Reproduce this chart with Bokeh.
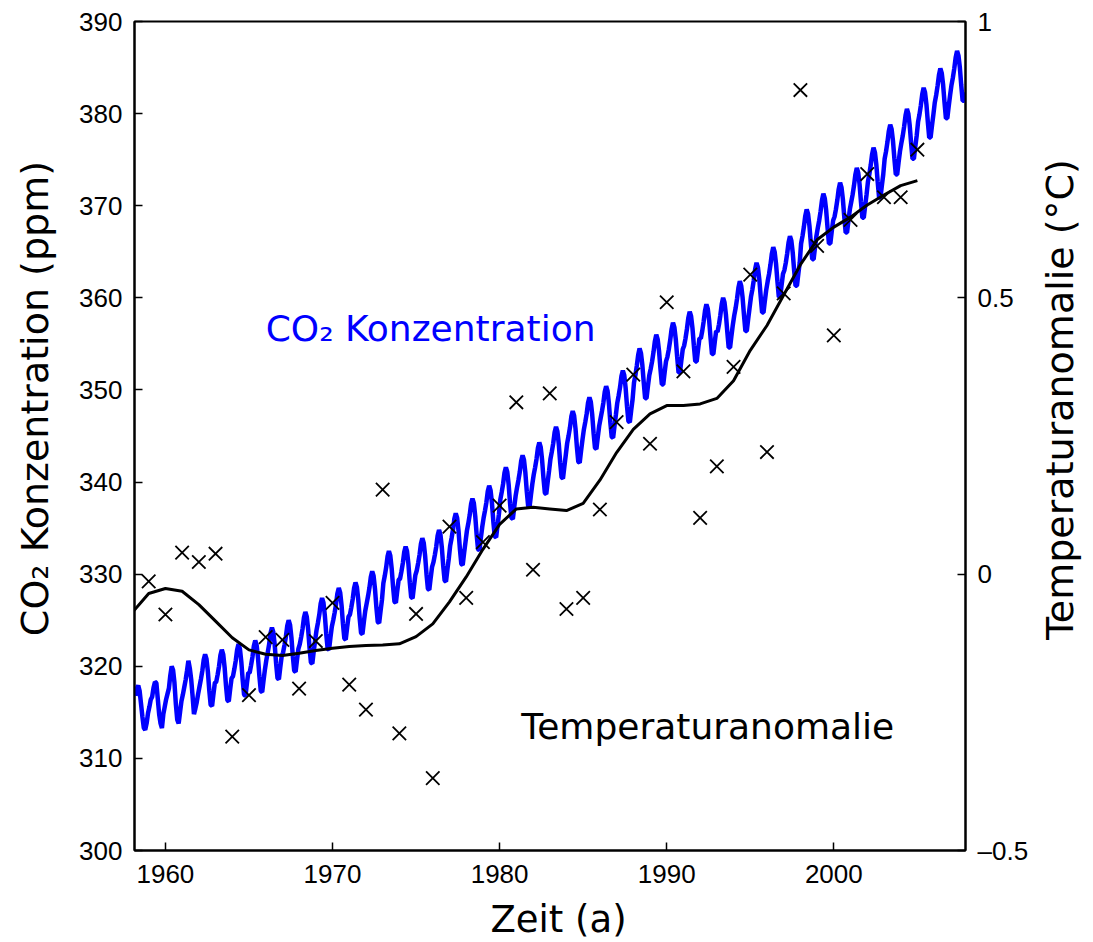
import math

from bokeh.embed import file_html
from bokeh.layouts import column, row
from bokeh.models import FixedTicker, Label, LinearAxis, Range1d
from bokeh.plotting import figure
from bokeh.resources import INLINE

# Monthly CO2 at Mauna Loa (ppm), first value = March 1958, one row per year
co2_first_year = 1958
co2_first_month = 3
co2_ppm = [
    316.8, 317.6, 317.9, 317.3, 315.9, 314.5, 313.3, 313.1, 313.8, 314.9,          # 1958
    315.6, 316.4, 316.7, 317.7, 318.3, 318.2, 316.5, 314.8, 313.8, 313.3, 314.8, 315.6,  # 1959
    316.4, 317.0, 317.6, 319.0, 320.0, 319.6, 318.2, 315.9, 314.2, 313.8, 315.0, 316.2,  # 1960
    316.9, 317.7, 318.5, 319.5, 320.6, 319.8, 318.6, 316.8, 314.8, 315.4, 316.1, 317.0,  # 1961
    317.8, 318.6, 319.5, 320.7, 321.3, 320.8, 319.4, 317.4, 315.8, 315.7, 317.0, 318.2,  # 1962
    318.3, 319.1, 320.0, 321.2, 321.8, 321.3, 319.9, 317.9, 316.3, 316.2, 317.5, 318.7,  # 1963
    318.9, 319.7, 320.6, 321.8, 322.4, 321.9, 320.5, 318.5, 316.9, 316.8, 318.1, 319.3,  # 1964
    319.3, 320.1, 321.0, 322.2, 322.8, 322.3, 320.9, 318.9, 317.3, 317.2, 318.5, 319.7,  # 1965
    320.7, 321.5, 322.4, 323.6, 324.2, 323.7, 322.3, 320.3, 318.7, 318.6, 319.9, 321.1,  # 1966
    321.5, 322.3, 323.2, 324.4, 325.0, 324.5, 323.1, 321.1, 319.5, 319.4, 320.7, 321.9,  # 1967
    322.4, 323.2, 324.1, 325.3, 325.9, 325.4, 324.0, 322.0, 320.4, 320.3, 321.6, 322.8,  # 1968
    323.9, 324.7, 325.6, 326.8, 327.4, 326.9, 325.5, 323.5, 321.9, 321.8, 323.1, 324.3,  # 1969
    325.0, 325.8, 326.7, 327.9, 328.5, 328.0, 326.6, 324.6, 323.0, 322.9, 324.2, 325.4,  # 1970
    325.6, 326.4, 327.3, 328.5, 329.1, 328.6, 327.2, 325.2, 323.6, 323.5, 324.8, 326.0,  # 1971
    326.8, 327.6, 328.5, 329.7, 330.3, 329.8, 328.4, 326.4, 324.8, 324.7, 326.0, 327.2,  # 1972
    329.0, 329.8, 330.7, 331.9, 332.5, 332.0, 330.6, 328.6, 327.0, 326.9, 328.2, 329.4,  # 1973
    329.5, 330.3, 331.2, 332.4, 333.0, 332.5, 331.1, 329.1, 327.5, 327.4, 328.7, 329.9,  # 1974
    330.4, 331.2, 332.1, 333.3, 333.9, 333.4, 332.0, 330.0, 328.4, 328.3, 329.6, 330.8,  # 1975
    331.3, 332.1, 333.0, 334.2, 334.8, 334.3, 332.9, 330.9, 329.3, 329.2, 330.5, 331.7,  # 1976
    333.1, 333.9, 334.8, 336.0, 336.6, 336.1, 334.7, 332.7, 331.1, 331.0, 332.3, 333.5,  # 1977
    334.7, 335.5, 336.4, 337.6, 338.2, 337.7, 336.3, 334.3, 332.7, 332.6, 333.9, 335.1,  # 1978
    336.1, 336.9, 337.8, 339.0, 339.6, 339.1, 337.7, 335.7, 334.1, 334.0, 335.3, 336.5,  # 1979
    338.1, 338.9, 339.8, 341.0, 341.6, 341.1, 339.7, 337.7, 336.1, 336.0, 337.3, 338.5,  # 1980
    339.4, 340.2, 341.1, 342.3, 342.9, 342.4, 341.0, 339.0, 337.4, 337.3, 338.6, 339.8,  # 1981
    340.8, 341.6, 342.5, 343.7, 344.3, 343.8, 342.4, 340.4, 338.8, 338.7, 340.0, 341.2,  # 1982
    342.5, 343.3, 344.2, 345.4, 346.0, 345.5, 344.1, 342.1, 340.5, 340.4, 341.7, 342.9,  # 1983
    344.2, 345.0, 345.9, 347.1, 347.7, 347.2, 345.8, 343.8, 342.2, 342.1, 343.4, 344.6,  # 1984
    345.7, 346.5, 347.4, 348.6, 349.2, 348.7, 347.3, 345.3, 343.7, 343.6, 344.9, 346.1,  # 1985
    346.9, 347.7, 348.6, 349.8, 350.4, 349.9, 348.5, 346.5, 344.9, 344.8, 346.1, 347.3,  # 1986
    348.6, 349.4, 350.3, 351.5, 352.1, 351.6, 350.2, 348.2, 346.6, 346.5, 347.8, 349.0,  # 1987
    350.8, 351.6, 352.6, 353.8, 354.5, 354.0, 352.7, 350.8, 349.1, 349.1, 350.4, 351.6,  # 1988
    352.3, 353.1, 354.1, 355.3, 356.0, 355.5, 354.2, 352.3, 350.6, 350.6, 351.9, 353.1,  # 1989
    353.6, 354.4, 355.4, 356.6, 357.3, 356.8, 355.5, 353.6, 351.9, 351.9, 353.2, 354.4,  # 1990
    354.8, 355.6, 356.6, 357.8, 358.5, 358.0, 356.7, 354.8, 353.1, 353.1, 354.4, 355.6,  # 1991
    355.6, 356.4, 357.4, 358.6, 359.3, 358.8, 357.5, 355.6, 353.9, 353.9, 355.2, 356.4,  # 1992
    356.3, 357.1, 358.1, 359.3, 360.0, 359.5, 358.2, 356.3, 354.6, 354.6, 355.9, 357.1,  # 1993
    358.1, 358.9, 359.9, 361.1, 361.8, 361.3, 360.0, 358.1, 356.4, 356.4, 357.7, 358.9,  # 1994
    360.1, 360.9, 361.9, 363.1, 363.8, 363.3, 362.0, 360.1, 358.4, 358.4, 359.7, 360.9,  # 1995
    361.8, 362.6, 363.6, 364.8, 365.5, 365.0, 363.7, 361.8, 360.1, 360.1, 361.4, 362.6,  # 1996
    363.0, 363.8, 364.8, 366.0, 366.7, 366.2, 364.9, 363.0, 361.3, 361.3, 362.6, 363.8,  # 1997
    365.9, 366.7, 367.7, 368.9, 369.6, 369.1, 367.8, 365.9, 364.2, 364.2, 365.5, 366.7,  # 1998
    367.6, 368.4, 369.4, 370.6, 371.3, 370.8, 369.5, 367.6, 365.9, 365.9, 367.2, 368.4,  # 1999
    368.8, 369.6, 370.6, 371.8, 372.5, 372.0, 370.7, 368.8, 367.1, 367.1, 368.4, 369.6,  # 2000
    370.4, 371.2, 372.2, 373.4, 374.1, 373.6, 372.3, 370.4, 368.7, 368.7, 370.0, 371.2,  # 2001
    372.6, 373.4, 374.4, 375.6, 376.3, 375.8, 374.5, 372.6, 370.9, 370.9, 372.2, 373.4,  # 2002
    375.1, 375.9, 376.9, 378.1, 378.8, 378.3, 377.0, 375.1, 373.4, 373.4, 374.7, 375.9,  # 2003
    376.8, 377.6, 378.6, 379.8, 380.5, 380.0, 378.7, 376.8, 375.1, 375.1, 376.4, 377.6,  # 2004
    379.1, 379.9, 380.9, 382.1, 382.8, 382.3, 381.0, 379.1, 377.4, 377.4, 378.7, 379.9,  # 2005
    381.2, 382.0, 383.0, 384.2, 384.9, 384.4, 383.1, 381.2, 379.5, 379.5, 380.8, 382.0,  # 2006
    383.1, 383.9, 384.9, 386.1, 386.8, 386.3, 385.0, 383.1, 381.4, 381.4, 382.3,         # 2007
]

# Annual global temperature anomaly (degC)
temp_years = list(range(1959, 2006))
temp_anomaly = [
    -0.013, -0.073, 0.039, 0.022, 0.037, -0.294, -0.219, -0.114, -0.119, -0.207,
    -0.121, -0.052, -0.200, -0.245, 0.153, -0.288, -0.072, -0.369, 0.086, -0.043,
    0.058, 0.124, 0.311, 0.008, 0.327, -0.063, -0.043, 0.117, 0.275, 0.361,
    0.236, 0.492, 0.367, 0.102, 0.195, 0.375, 0.542, 0.221, 0.508, 0.876,
    0.594, 0.432, 0.641, 0.724, 0.682, 0.682, 0.768,
]

# Smoothed temperature anomaly (degC)
smooth_years = list(range(1958, 2006))
smooth_anomaly = [
    -0.070, -0.035, -0.026, -0.031, -0.055, -0.085, -0.115, -0.137, -0.145, -0.147,
    -0.143, -0.138, -0.134, -0.131, -0.129, -0.128, -0.126, -0.113, -0.090, -0.050,
    -0.005, 0.045, 0.090, 0.118, 0.121, 0.118, 0.115, 0.128, 0.170, 0.220,
    0.262, 0.290, 0.305, 0.305, 0.308, 0.318, 0.350, 0.405, 0.450, 0.505,
    0.560, 0.605, 0.628, 0.646, 0.668, 0.686, 0.703, 0.712,
]

# Axis ticks
year_ticks = [1960, 1970, 1980, 1990, 2000]
ppm_ticks = [300, 310, 320, 330, 340, 350, 360, 370, 380, 390]
temp_ticks = [-0.5, 0, 0.5, 1]
temp_tick_labels = {-0.5: "\u20130.5", 0: "0", 0.5: "0.5", 1: "1"}

co2_dates = [co2_first_year + (co2_first_month - 1 + i + 0.5) / 12.0
             for i in range(len(co2_ppm))]

TICK_FONT = "Liberation Sans"
LABEL_FONT = "DejaVu Sans"

# page layout: left title strip | chart | right title strip, x-title strip below
LEFT_W, RIGHT_W, BOTTOM_H = 70, 60, 45
PAGE_W, PAGE_H = 1093, 942
MAIN_W = PAGE_W - LEFT_W - RIGHT_W
MAIN_H = PAGE_H - BOTTOM_H

p = figure(
    width=MAIN_W, height=MAIN_H,
    output_backend="svg", toolbar_location=None,
    x_range=Range1d(1958.15, 2007.88), y_range=Range1d(300, 390),
    min_border_left=134 - LEFT_W, min_border_right=128 - RIGHT_W,
    min_border_top=21, min_border_bottom=MAIN_H - 21 - 829,
    x_axis_location=None, y_axis_location=None,
)
p.extra_y_ranges = {"temp": Range1d(-0.5, 1.0)}
p.grid.visible = False
p.background_fill_color = "white"
p.border_fill_color = "white"
p.outline_line_color = "black"
p.outline_line_width = 2


def style_axis(ax, ticks, standoff):
    ax.ticker = FixedTicker(ticks=ticks)
    ax.major_tick_in = 8
    ax.major_tick_out = 0
    ax.minor_tick_in = 0
    ax.minor_tick_out = 0
    ax.major_tick_line_color = "black"
    ax.major_tick_line_width = 1.5
    ax.axis_line_color = "black"
    ax.axis_line_width = 2
    ax.major_label_text_font = TICK_FONT
    ax.major_label_text_font_size = "26px"
    ax.major_label_text_color = "black"
    ax.major_label_standoff = standoff


x_axis = LinearAxis()
style_axis(x_axis, year_ticks, 14)
p.add_layout(x_axis, "below")

y_axis = LinearAxis()
style_axis(y_axis, ppm_ticks, 12)
p.add_layout(y_axis, "left")

t_axis = LinearAxis(y_range_name="temp")
style_axis(t_axis, temp_ticks, 12)
t_axis.major_label_overrides = temp_tick_labels
p.add_layout(t_axis, "right")

# CO2 record with its seasonal cycle
p.line(co2_dates, co2_ppm, line_color="#0000ff", line_width=4.5)

# smoothed temperature anomaly
p.line(smooth_years, smooth_anomaly, y_range_name="temp",
       line_color="black", line_width=3)

# annual temperature anomalies
p.scatter(temp_years, temp_anomaly, y_range_name="temp", marker="x",
          size=19, line_color="black", line_width=1.8)

# in-plot series names
for x, y, text, color in [(1966.0, 356.7, "CO\u2082 Konzentration", "#0000ff"),
                          (1981.3, 313.5, "Temperaturanomalie", "black")]:
    p.add_layout(Label(
        x=x, y=y, text=text, text_color=color,
        text_font=LABEL_FONT, text_font_size="36px",
        text_align="left", text_baseline="alphabetic",
    ))


def title_strip(w, h, text, x, y, angle, size="38px"):
    """A blank pixel-unit canvas holding one axis title."""
    s = figure(
        width=w, height=h, output_backend="svg", toolbar_location=None,
        x_range=Range1d(0, w), y_range=Range1d(0, h),
        min_border=0, x_axis_location=None, y_axis_location=None,
    )
    s.grid.visible = False
    s.outline_line_color = None
    s.background_fill_color = "white"
    s.border_fill_color = "white"
    s.add_layout(Label(
        x=x, y=y, text=text, angle=angle,
        text_color="black", text_font=LABEL_FONT, text_font_size=size,
        text_align="center", text_baseline="middle",
    ))
    return s


left_strip = title_strip(LEFT_W, MAIN_H, "CO\u2082 Konzentration (ppm)",
                         34, MAIN_H - 408, math.pi / 2)
right_strip = title_strip(RIGHT_W, MAIN_H, "Temperaturanomalie (\u00b0C)",
                          26, MAIN_H - 409, math.pi / 2)
bottom_strip = title_strip(PAGE_W, BOTTOM_H, "Zeit (a)",
                           558, PAGE_H - 919, 0.0, size="37px")

page = column(row(left_strip, p, right_strip), bottom_strip)

open("out.html", "w").write(file_html(page, INLINE))
